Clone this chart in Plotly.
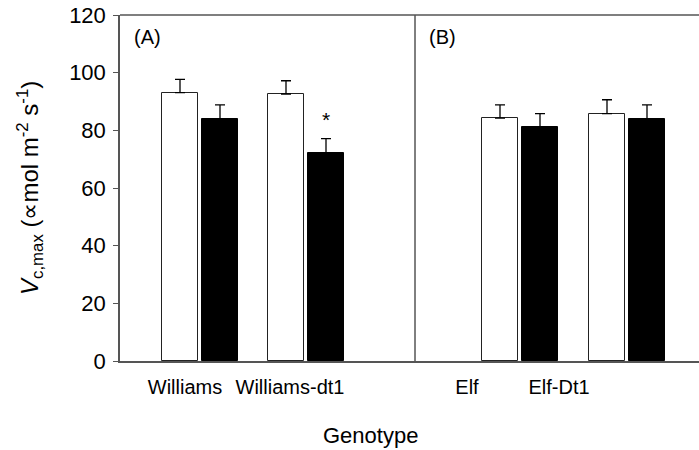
import plotly.graph_objects as go

# ---- data ----
genotypes = ["Williams", "Williams-dt1", "Elf", "Elf-Dt1"]
control_vals = [93.1, 92.6, 84.2, 85.8]
control_err = [4.6, 4.6, 4.6, 4.8]
treat_vals = [84.0, 72.3, 81.2, 84.0]
treat_err = [4.8, 4.8, 4.6, 4.8]
sig_marks = ["", "*", "", ""]
y_ticks = [0, 20, 40, 60, 80, 100, 120]

# ---- layout geometry (x in pixel-like units across the plot) ----
group_centers = [80, 186, 400, 507]
label_pos = [65, 170, 347, 439]
bar_w = 36
off = 20
divider = 295
x_max = 579

FONT = "Liberation Sans, Arial, sans-serif"

fig = go.Figure()
fig.add_trace(go.Bar(
    x=[c - off for c in group_centers], y=control_vals, width=bar_w,
    marker=dict(color="white", line=dict(color="#222", width=1)),
    error_y=dict(type="data", symmetric=False, array=control_err,
                 arrayminus=[0] * 4, color="black", thickness=1.3, width=5),
    showlegend=False, hoverinfo="skip"))
fig.add_trace(go.Bar(
    x=[c + off for c in group_centers], y=treat_vals, width=bar_w,
    marker=dict(color="black", line=dict(color="black", width=1)),
    error_y=dict(type="data", symmetric=False, array=treat_err,
                 arrayminus=[0] * 4, color="black", thickness=1.3, width=5),
    showlegend=False, hoverinfo="skip"))

for c, v, e, s in zip(group_centers, treat_vals, treat_err, sig_marks):
    if s:
        fig.add_annotation(x=c + off, y=v + e + 2, text=s, showarrow=False,
                           yanchor="bottom", font=dict(size=21, color="black", family=FONT))

fig.add_shape(type="line", xref="x", yref="y", x0=divider, x1=divider, y0=0, y1=120,
              line=dict(color="black", width=1))
fig.add_shape(type="line", xref="paper", yref="paper", x0=0, x1=1, y0=1, y1=1,
              line=dict(color="#555", width=1.5))

fig.add_annotation(xref="paper", yref="paper", x=12 / x_max, y=1 - 9 / 346,
                   text="(A)", showarrow=False, xanchor="left", yanchor="top",
                   font=dict(size=20, color="black", family=FONT))
fig.add_annotation(xref="paper", yref="paper", x=(divider + 12) / x_max, y=1 - 9 / 346,
                   text="(B)", showarrow=False, xanchor="left", yanchor="top",
                   font=dict(size=20, color="black", family=FONT))

fig.add_annotation(xref="paper", yref="paper", x=(30 - 120) / x_max, y=0.5,
                   text="<i>V</i><sub>c,max</sub> (∝mol m<sup>-2</sup> s<sup>-1</sup>)",
                   textangle=-90, showarrow=False, xanchor="center", yanchor="middle",
                   font=dict(size=24, color="black", family=FONT))
fig.add_annotation(xref="paper", yref="paper", x=(370 - 120) / x_max, y=-(435 - 361) / 346,
                   text="Genotype", showarrow=False, xanchor="center", yanchor="middle",
                   font=dict(size=22, color="black", family=FONT))

fig.update_layout(
    width=699, height=450,
    margin=dict(l=120, r=0, t=15, b=89),
    paper_bgcolor="white", plot_bgcolor="white",
    bargap=0,
    font=dict(family=FONT, color="black"),
    xaxis=dict(range=[0, x_max], tickvals=label_pos, ticktext=genotypes,
               showline=True, linecolor="#555", linewidth=1.5, ticks="",
               showgrid=False, zeroline=False, tickfont=dict(size=20),
               ticklabelstandoff=7),
    yaxis=dict(range=[0, 120], tickvals=y_ticks, showline=True, linecolor="#555",
               linewidth=1.5, ticks="outside", ticklen=5, tickcolor="#555",
               showgrid=False, zeroline=False, tickfont=dict(size=22),
               ticklabelstandoff=3),
)

fig.write_html("out.html", config={"displayModeBar": False},
               post_script="document.body.style.margin='0';")
